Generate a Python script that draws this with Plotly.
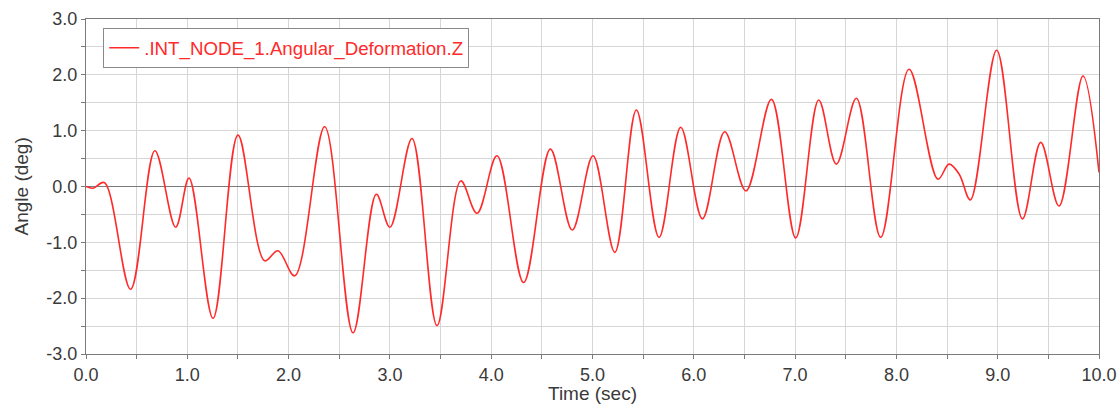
import plotly.graph_objects as go

time_sec = [0.00, 0.07, 0.18, 0.44, 0.68, 0.885, 1.017, 1.254, 1.50, 1.764, 1.895, 2.06,
            2.356, 2.636, 2.866, 3.00, 3.218, 3.465, 3.70, 3.86, 4.057, 4.32, 4.584, 4.80,
            5.005, 5.22, 5.433, 5.657, 5.871, 6.085, 6.305, 6.515, 6.766, 7.006, 7.233,
            7.407, 7.605, 7.845, 8.125, 8.41, 8.52, 8.62, 8.73, 8.99, 9.244, 9.425, 9.605,
            9.842, 10.0]
angle_deg = [0.00, -0.03, 0.07, -1.84, 0.64, -0.73, 0.15, -2.36, 0.92, -1.33, -1.15, -1.60,
             1.07, -2.62, -0.14, -0.73, 0.86, -2.49, 0.10, -0.48, 0.55, -1.72, 0.67, -0.78,
             0.55, -1.18, 1.37, -0.91, 1.06, -0.58, 0.98, -0.08, 1.56, -0.92, 1.55,
             0.40, 1.58, -0.91, 2.10, 0.13, 0.40, 0.22, -0.24, 2.44, -0.58, 0.79, -0.35,
             1.98, 0.25]

x_tick_vals = [0, 1, 2, 3, 4, 5, 6, 7, 8, 9, 10]
x_tick_text = ["0.0", "1.0", "2.0", "3.0", "4.0", "5.0", "6.0", "7.0", "8.0", "9.0", "10.0"]
y_tick_vals = [-3, -2, -1, 0, 1, 2, 3]
y_tick_text = ["-3.0", "-2.0", "-1.0", "0.0", "1.0", "2.0", "3.0"]

series_name = ".INT_NODE_1.Angular_Deformation.Z"
x_title = "Time (sec)"
y_title = "Angle (deg)"
line_color = "#ff2a2a"

fig = go.Figure()
fig.add_trace(go.Scatter(
    x=time_sec, y=angle_deg, mode="lines", name=series_name,
    line=dict(color=line_color, width=1.6, shape="spline", smoothing=1.0),
))

grid_c = "#d6d6d6"
frame_c = "#7a7a7a"
fam = "Liberation Sans, Arial, sans-serif"
axis_font = dict(family=fam, size=18, color="#3a3a3a")
title_font = dict(family=fam, size=19, color="#3a3a3a")

fig.update_layout(
    width=1118, height=405,
    margin=dict(l=86, r=19, t=19, b=51),
    paper_bgcolor="white", plot_bgcolor="white",
    showlegend=True,
    legend=dict(
        x=0.017, y=0.973, xanchor="left", yanchor="top",
        bgcolor="white", bordercolor="#8a8a8a", borderwidth=1,
        font=dict(family=fam, size=18.7, color=line_color),
        itemwidth=30, tracegroupgap=0,
    ),
    font=axis_font,
    annotations=[
        dict(text=x_title, xref="paper", yref="paper", x=0.5, y=-0.118,
             xanchor="center", yanchor="middle", showarrow=False, font=title_font),
        dict(text=y_title, xref="paper", yref="paper", x=-0.0632, y=0.5,
             xanchor="center", yanchor="middle", showarrow=False, textangle=-90, font=title_font),
    ],
)
fig.update_xaxes(
    range=[0, 10], tickvals=x_tick_vals, ticktext=x_tick_text, automargin=False,
    showgrid=True, gridcolor=grid_c, gridwidth=1,
    minor=dict(tick0=0, dtick=0.5, showgrid=True, gridcolor=grid_c, ticks="outside", ticklen=4, tickcolor=frame_c),
    ticks="outside", ticklen=4, tickcolor=frame_c,
    showline=True, linecolor=frame_c, linewidth=1, mirror=True,
    zeroline=False,
    tickfont=axis_font,
)
fig.update_yaxes(
    range=[-3, 3], tickvals=y_tick_vals, ticktext=y_tick_text, automargin=False,
    showgrid=True, gridcolor=grid_c, gridwidth=1,
    minor=dict(tick0=0, dtick=0.5, showgrid=True, gridcolor=grid_c, ticks="outside", ticklen=4, tickcolor=frame_c),
    ticks="outside", ticklen=4, tickcolor=frame_c,
    showline=True, linecolor=frame_c, linewidth=1, mirror=True,
    zeroline=True, zerolinecolor=frame_c, zerolinewidth=1,
    tickfont=axis_font,
)

fig.write_html("out.html")
